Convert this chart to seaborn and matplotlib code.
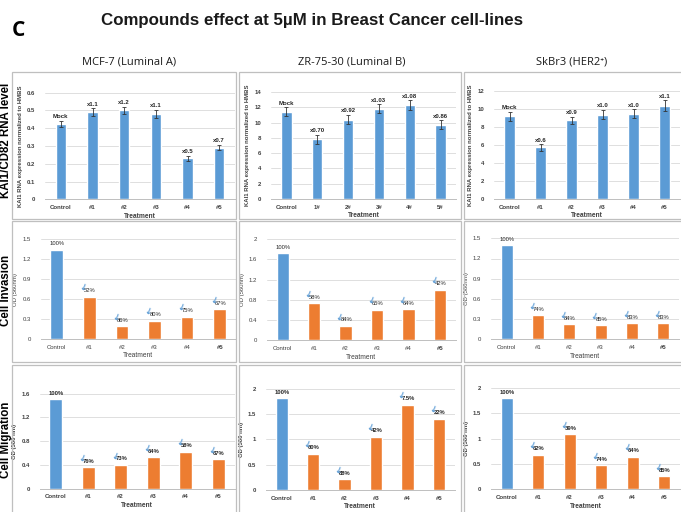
import matplotlib
matplotlib.use("Agg")
import matplotlib.pyplot as plt
import seaborn as sns
from matplotlib.patches import Rectangle

sns.set_theme(style="white")
plt.rcParams["font.family"] = ["Liberation Sans", "DejaVu Sans"]

W, H = 681, 512

# ---------------- data ----------------
cats_hash = ["Control", "#1", "#2", "#3", "#4", "#5"]
cats_zr = ["Control", "1#", "2#", "3#", "4#", "5#"]

# KAI1/CD82 RNA level (qPCR, normalised to HMBS)
rna_mcf7 = [0.425, 0.49, 0.50, 0.48, 0.232, 0.29]
rna_mcf7_err = [0.018, 0.022, 0.022, 0.025, 0.014, 0.015]
rna_mcf7_lbl = ["Mock", "x1.1", "x1.2", "x1.1", "x0.5", "x0.7"]

rna_zr = [11.4, 7.8, 10.4, 11.8, 12.3, 9.7]
rna_zr_err = [0.6, 0.6, 0.6, 0.6, 0.6, 0.6]
rna_zr_lbl = ["Mock", "x0.70", "x0.92", "x1.03", "x1.08", "x0.86"]

rna_skbr3 = [9.2, 5.75, 8.75, 9.4, 9.5, 10.4]
rna_skbr3_err = [0.5, 0.35, 0.4, 0.5, 0.5, 0.6]
rna_skbr3_lbl = ["Mock", "x0.6", "x0.9", "x1.0", "x1.0", "x1.1"]

# Cell invasion, OD 560 nm
inv_mcf7 = [1.345, 0.637, 0.19, 0.276, 0.336, 0.447]
inv_mcf7_pct = ["100%", "52%", "86%", "80%", "75%", "67%"]
inv_zr = [1.72, 0.73, 0.283, 0.605, 0.618, 1.0]
inv_zr_pct = ["100%", "58%", "84%", "65%", "64%", "42%"]
inv_skbr3 = [1.40, 0.36, 0.22, 0.21, 0.24, 0.235]
inv_skbr3_pct = ["100%", "74%", "84%", "85%", "83%", "83%"]

# Cell migration, OD 560 nm
mig_mcf7 = [1.505, 0.36, 0.40, 0.533, 0.623, 0.494]
mig_mcf7_pct = ["100%", "76%", "73%", "64%", "58%", "67%"]
mig_zr = [1.81, 0.72, 0.21, 1.05, 1.68, 1.41]
mig_zr_pct = ["100%", "60%", "88%", "42%", "7.5%", "22%"]
mig_skbr3 = [1.80, 0.68, 1.09, 0.47, 0.64, 0.26]
mig_skbr3_pct = ["100%", "62%", "39%", "74%", "64%", "85%"]

BLUE = "#5b9bd5"
ORANGE = "#ed7d31"
GRID = "#d9d9d9"
TXT = "#404040"

fig = plt.figure(figsize=(W / 100, H / 100), dpi=100)
fig.patch.set_facecolor("white")


def px_rect(x0, y0, x1, y1):
    return [x0 / W, 1 - y1 / H, (x1 - x0) / W, (y1 - y0) / H]


def fmt(v):
    return f"{round(v, 3):g}"


def panel(box, cats, vals, ymax, ystep, ylabel, colors, width,
          err=None, labels=None, pcts=None, bold_ticks=False,
          bold_last=False, bold_label=False):
    ax = fig.add_axes(px_rect(*box))
    sns.barplot(x=cats, y=vals, hue=cats, palette=colors, legend=False,
                width=width, saturation=1, ax=ax, errorbar=None, zorder=3)
    ax.set_ylim(0, ymax)
    ticks = []
    t = 0.0
    while t <= ymax + 1e-9:
        ticks.append(round(t, 4))
        t += ystep
    ax.set_yticks(ticks)
    ax.set_yticklabels([fmt(v) for v in ticks])
    ax.set_xlim(-0.5, len(cats) - 0.5)
    ax.yaxis.grid(True, color=GRID, linewidth=0.6, zorder=0)
    ax.set_axisbelow(True)
    for s in ["left", "right", "top"]:
        ax.spines[s].set_visible(False)
    ax.spines["bottom"].set_color("#bfbfbf")
    ax.spines["bottom"].set_linewidth(0.7)
    ax.tick_params(axis="both", length=0, labelsize=4.3, colors=TXT)
    ax.tick_params(axis="y", pad=7)
    ax.tick_params(axis="x", pad=4)
    for lab in ax.get_yticklabels():
        lab.set_fontweight("bold" if bold_ticks else "normal")
    for i, lab in enumerate(ax.get_xticklabels()):
        if bold_ticks or (bold_last and i == len(cats) - 1):
            lab.set_fontweight("bold")
    ax.set_xlabel("Treatment", fontsize=4.8, color=TXT,
                  fontweight="bold" if bold_label else "normal", labelpad=2)
    ax.set_ylabel(ylabel, fontsize=4.3, color=TXT,
                  fontweight="bold" if bold_label else "normal", labelpad=3)

    if err is not None:
        ax.errorbar(range(len(cats)), vals, yerr=err, fmt="none",
                    ecolor="#333333", elinewidth=0.6, capsize=1.6,
                    capthick=0.6, zorder=4)
        for i, (v, e, s) in enumerate(zip(vals, err, labels)):
            ax.annotate(s, (i, v + e), xytext=(0, 1.2),
                        textcoords="offset points", ha="center", va="bottom",
                        fontsize=4.3, fontweight="bold", color="#262626")
    if pcts is not None:
        weight = "bold" if bold_label else "normal"
        for i, (v, s) in enumerate(zip(vals, pcts)):
            if i == 0:
                ax.annotate(s, (i, v), xytext=(0, 2.5),
                            textcoords="offset points", ha="center",
                            va="bottom", fontsize=4.2, fontweight=weight,
                            color="#262626")
            else:
                ax.annotate(s, (i, v), xytext=(-3.8, 2.5),
                            textcoords="offset points", ha="left",
                            va="bottom", fontsize=4.2, fontweight=weight,
                            color="#262626")
                ax.annotate("\u2193", (i, v), xytext=(-3.4, 2.0),
                            textcoords="offset points", ha="right",
                            va="bottom", fontsize=6.5, fontweight="bold",
                            rotation=-22, rotation_mode="anchor",
                            color=BLUE, family="DejaVu Sans")
    return ax


# ---------------- panel frames ----------------
cols = [(12, 236), (239, 461), (464, 686)]
rows = [(72, 219), (221, 362), (365, 516)]
for (x0, x1) in cols:
    for (y0, y1) in rows:
        fig.patches.append(Rectangle((x0 / W, 1 - y1 / H), (x1 - x0) / W,
                                     (y1 - y0) / H, transform=fig.transFigure,
                                     fill=False, edgecolor="#bfbfbf",
                                     linewidth=0.9))

rna_ylab = "KAI1 RNA expression normalized to HMBS"
blue6 = [BLUE] * 6
mixed6 = [BLUE] + [ORANGE] * 5

# row 1: RNA level
panel((45, 92.7, 235, 199.3), cats_hash, rna_mcf7, 0.6, 0.1, rna_ylab, blue6,
      0.33, err=rna_mcf7_err, labels=rna_mcf7_lbl, bold_ticks=True,
      bold_label=True)
panel((271, 92, 456, 199), cats_zr, rna_zr, 14, 2, rna_ylab, blue6,
      0.33, err=rna_zr_err, labels=rna_zr_lbl, bold_ticks=True,
      bold_label=True)
panel((494, 91.3, 680, 199), cats_hash, rna_skbr3, 12, 2, rna_ylab, blue6,
      0.33, err=rna_skbr3_err, labels=rna_skbr3_lbl, bold_ticks=True,
      bold_label=True)

# row 2: invasion
panel((40.5, 239.3, 236, 339), cats_hash, inv_mcf7, 1.5, 0.3, "OD (560nm)",
      mixed6, 0.39, pcts=inv_mcf7_pct, bold_last=True)
panel((267, 239, 455.7, 340.3), cats_hash, inv_zr, 2.0, 0.4, "OD (560nm)",
      mixed6, 0.39, pcts=inv_zr_pct, bold_last=True)
panel((491, 238.3, 679, 339.3), cats_hash, inv_skbr3, 1.5, 0.3, "OD (560nm)",
      mixed6, 0.39, pcts=inv_skbr3_pct, bold_last=True)

# row 3: migration
panel((39.5, 393.7, 234.5, 488.7), cats_hash, mig_mcf7, 1.6, 0.4,
      "OD (560 nm)", mixed6, 0.39, pcts=mig_mcf7_pct, bold_ticks=True,
      bold_label=True)
panel((266, 388.7, 454.7, 490), cats_hash, mig_zr, 2.0, 0.5,
      "OD (560 nm)", mixed6, 0.39, pcts=mig_zr_pct, bold_ticks=True,
      bold_label=True)
panel((491, 388, 680, 489.3), cats_hash, mig_skbr3, 2.0, 0.5,
      "OD (560 nm)", mixed6, 0.39, pcts=mig_skbr3_pct, bold_ticks=True,
      bold_label=True)

# ---------------- headings ----------------
fig.text(18 / W, 1 - 31 / H, "C", fontsize=15, fontweight="bold",
         ha="center", va="center", color="black",
         family=["Open Sans", "DejaVu Sans"])
fig.text(312 / W, 1 - 20 / H,
         "Compounds effect at 5\u00b5M in Breast Cancer cell-lines",
         fontsize=12.2, fontweight="bold", ha="center", va="center",
         color="#1a1a1a")
hdr_font = ["Open Sans", "DejaVu Sans"]
fig.text(129 / W, 1 - 62 / H, "MCF-7 (Luminal A)", fontsize=8,
         ha="center", va="center", color="#1a1a1a", family=hdr_font)
fig.text(352 / W, 1 - 62 / H, "ZR-75-30 (Luminal B)", fontsize=8,
         ha="center", va="center", color="#1a1a1a", family=hdr_font)
fig.text(572 / W, 1 - 62 / H, "SkBr3 (HER2\u207a)", fontsize=8,
         ha="center", va="center", color="#1a1a1a", family=hdr_font)

# row titles along the left margin
for label, yc in [("KAI1/CD82 RNA level", 140), ("Cell Invasion", 290),
                  ("Cell Migration", 440)]:
    fig.text(6.5 / W, 1 - yc / H, label, fontsize=8.3, fontweight="bold",
             rotation=90, ha="center", va="center", color="black")

fig.savefig("out.png", dpi=100, facecolor="white")
